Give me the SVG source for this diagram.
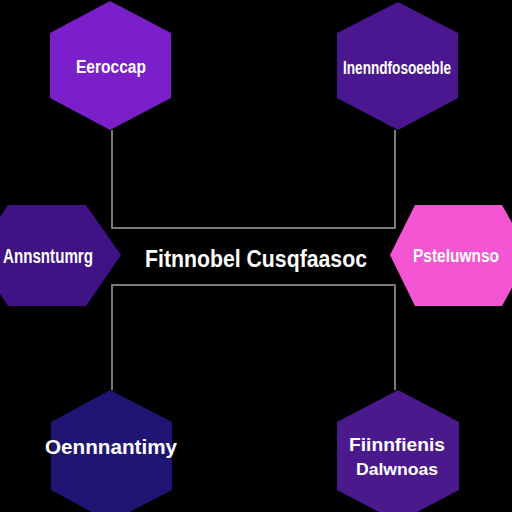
<svg xmlns="http://www.w3.org/2000/svg" width="512" height="512" viewBox="0 0 512 512">
<style>
.lbl{font-family:"Liberation Sans",Arial,sans-serif;font-weight:bold;fill:#ffffff;text-anchor:middle;dominant-baseline:central}
.con{fill:none;stroke:#7a7a7a;stroke-width:2;stroke-linejoin:round}
</style>
<rect width="512" height="512" fill="#000000"/>
<g id="connectors">
<path class="con" d="M112,130 V228 H395 V130"/>
<path class="con" d="M112,390 V285 H395 V390"/>
</g>
<g id="node-top-left">
<polygon points="110,1 171,33 171,98 110,130 50,98 50,33" fill="#7a1fc9"/>
<text class="lbl" x="111" y="67" font-size="18" textLength="70" lengthAdjust="spacingAndGlyphs">Eeroccap</text>
</g>
<g id="node-top-right">
<polygon points="398,2 458,33 458,98 398,130 337,98 337,33" fill="#4a1790"/>
<text class="lbl" x="397" y="68" font-size="18" textLength="108" lengthAdjust="spacingAndGlyphs">Inenndfosoeeble</text>
</g>
<g id="node-left">
<polygon points="8,205 86,205 121,255 86,306 8,306 -26,255" fill="#3f1285"/>
<text class="lbl" x="48" y="255" font-size="21" textLength="90" lengthAdjust="spacingAndGlyphs">Annsntumrg</text>
</g>
<g id="node-center">
<text class="lbl" x="256" y="259" font-size="23" textLength="222" lengthAdjust="spacingAndGlyphs">Fitnnobel Cusqfaasoc</text>
</g>
<g id="node-right">
<polygon points="415,205 502,205 530,255 502,306 415,306 390,255" fill="#f455d3"/>
<text class="lbl" x="456" y="256" font-size="18" textLength="86" lengthAdjust="spacingAndGlyphs">Psteluwnso</text>
</g>
<g id="node-bottom-left">
<polygon points="110,390 172,422 172,490 110,522 51,490 51,422" fill="#1f1572"/>
<text class="lbl" x="111" y="447" font-size="20" textLength="132" lengthAdjust="spacingAndGlyphs">Oennnantimy</text>
</g>
<g id="node-bottom-right">
<polygon points="398,390 459,422 459,490 398,522 337,490 337,422" fill="#4a198c"/>
<text class="lbl" x="397" y="444" font-size="19" textLength="96" lengthAdjust="spacingAndGlyphs">Fiinnfienis</text>
<text class="lbl" x="397" y="469" font-size="16" textLength="82" lengthAdjust="spacingAndGlyphs">Dalwnoas</text>
</g>
</svg>
